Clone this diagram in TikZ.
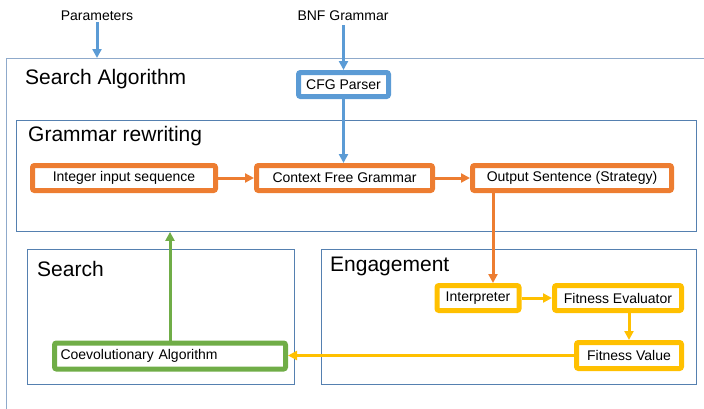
\documentclass[tikz,border=0pt]{standalone}
\usepackage{fontspec}
\setmainfont{Liberation Sans}
\usepackage{xcolor}
\usetikzlibrary{arrows.meta}
\definecolor{cblue}{HTML}{5B9BD5}
\definecolor{corange}{HTML}{ED7D31}
\definecolor{cyellow}{HTML}{FFC000}
\definecolor{cgreen}{HTML}{70AD47}
\definecolor{cpanel}{HTML}{5580B0}
\definecolor{couter}{HTML}{8FAACB}
\tikzset{
  procbox/.style={draw, line width=5pt, rounded corners=2pt, fill=white, inner sep=0pt, minimum height=25pt, font=\fontsize{14}{16}\selectfont},
  panel/.style={draw=cpanel, line width=0.9pt, inner sep=0pt, anchor=north west},
  paneltitle/.style={anchor=base west, inner sep=0pt, font=\fontsize{21}{24}\selectfont},
  toplabel/.style={anchor=base, inner sep=0pt, font=\fontsize{14}{16}\selectfont},
  flow/.style={line width=3pt, -{Triangle[length=9pt,width=9pt]}}
}
\begin{document}
\begin{tikzpicture}[x=1pt,y=-1pt]
\useasboundingbox (0,0) rectangle (704,408);
\node[panel, draw=couter, line width=1.4pt, minimum width=740pt, minimum height=400pt] (searchalg) at (6,58) {};
\node[panel, minimum width=680pt, minimum height=111pt] (rewriting) at (16,120) {};
\node[panel, minimum width=267pt, minimum height=135pt] (search) at (26.5,248.5) {};
\node[panel, minimum width=375pt, minimum height=135.5pt] (engage) at (321,248.5) {};
\node[paneltitle] at (25,84) {Search Algorithm};
\node[paneltitle] at (28,141.5) {Grammar rewriting};
\node[paneltitle] at (37,276) {Search};
\node[paneltitle] at (330,271) {Engagement};

\node[toplabel] (param) at (97,20) {Parameters};
\node[toplabel] (bnf) at (343,20) {BNF Grammar};

\node[procbox, draw=cblue, minimum width=90pt, minimum height=24pt] (parser) at (343.5,84.5) {CFG Parser};
\node[procbox, draw=corange, minimum width=183pt] (intseq) at (124,178) {Integer input sequence};
\node[procbox, draw=corange, minimum width=176pt] (cfg) at (344.5,178) {Context Free Grammar};
\node[procbox, draw=corange, minimum width=199pt] (output) at (572,178) {Output Sentence (Strategy)};
\node[procbox, draw=cyellow, minimum width=82pt] (interp) at (478,298) {Interpreter};
\node[procbox, draw=cyellow, minimum width=127pt] (fiteval) at (618,298) {Fitness Evaluator};
\node[procbox, draw=cyellow, minimum width=105pt, minimum height=26pt] (fitval) at (629,355.5) {Fitness Value};
\node[procbox, draw=cgreen, minimum width=231pt, minimum height=26pt, text width=219pt, align=left] (coevo) at (170,356) {Coevolutionary Algorithm};

\draw[flow, cblue] ([yshift=-2pt]param.south) -- (param.south |- searchalg.north);
\draw[flow, cblue] ([yshift=-5pt]bnf.south -| parser.north) -- (parser.north);
\draw[flow, cblue] (parser.south) -- (parser.south |- cfg.north);
\draw[flow, corange] (intseq.east) -- (cfg.west);
\draw[flow, corange] (cfg.east) -- (output.west);
\draw[flow, corange] ([xshift=15pt]interp.north |- output.south) -- ([xshift=15pt]interp.north);
\draw[flow, cyellow] (interp.east) -- (fiteval.west);
\draw[flow, cyellow] (fitval.north |- fiteval.south) -- (fitval.north);
\draw[flow, cyellow] (fitval.west) -- (fitval.west -| coevo.east);
\draw[flow, cgreen] (coevo.north) -- (coevo.north |- rewriting.south);
\end{tikzpicture}
\end{document}
